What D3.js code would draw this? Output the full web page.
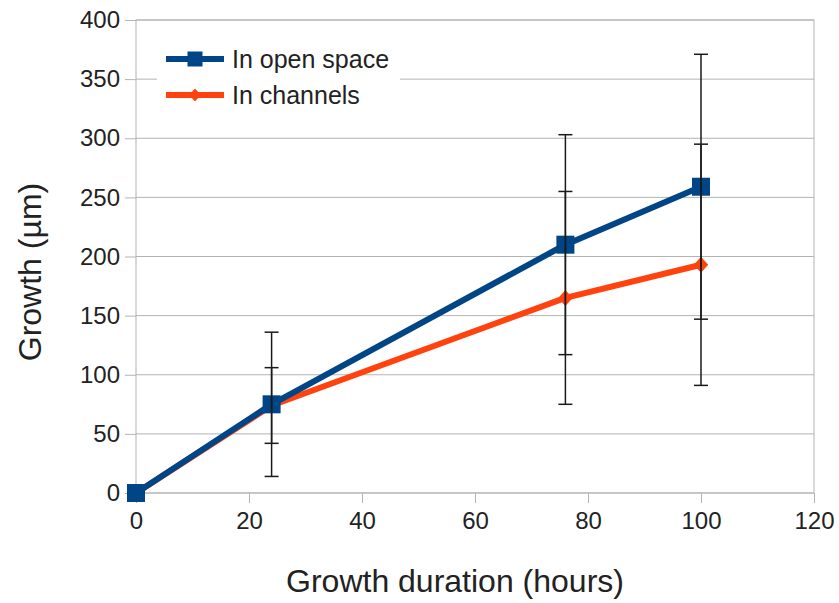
<!DOCTYPE html>
<html>
<head>
<meta charset="utf-8">
<script src="https://cdn.jsdelivr.net/npm/d3@7"></script>
<style>
  html, body { margin: 0; padding: 0; background: #fff; }
  svg { display: block; font-family: "Liberation Sans", Arial, sans-serif; }
  .grid line { stroke: #b3b3b3; stroke-width: 1; }
  .axis text { fill: #222; font-size: 24px; }
  .axis line, .axis path { stroke: #b3b3b3; }
  .axis-title { fill: #222; font-size: 32px; }
  .legend text { fill: #222; font-size: 25px; }
</style>
</head>
<body>
<div id="chart"></div>
<script>
// growth vs duration, two conditions, with +/- error bars
const hours = [0, 24, 76, 100];
const openSpace = [0, 75, 210, 259];
const openSpaceErr = [0, 61, 93, 112];
const channels = [0, 74, 165, 193];
const channelsErr = [0, 32, 90, 102];
const xTicks = [0, 20, 40, 60, 80, 100, 120];
const yTicks = [0, 50, 100, 150, 200, 250, 300, 350, 400];

const series = [
  { name: "In channels", color: "#ff420e", shape: "diamond", y: channels, err: channelsErr },
  { name: "In open space", color: "#004586", shape: "square", y: openSpace, err: openSpaceErr },
];

const width = 839, height = 603;
const m = { top: 20, right: 25, bottom: 110, left: 136 };
const iW = width - m.left - m.right, iH = height - m.top - m.bottom;

const x = d3.scaleLinear([0, 120], [0, iW]);
const y = d3.scaleLinear([0, 400], [iH, 0]);

const svg = d3.select("#chart").append("svg")
  .attr("width", width).attr("height", height);
const g = svg.append("g").attr("transform", `translate(${m.left},${m.top})`);

// horizontal gridlines + frame
g.append("g").attr("class", "grid").selectAll("line")
  .data(yTicks).join("line")
  .attr("x1", 0).attr("x2", iW).attr("y1", (d) => y(d)).attr("y2", (d) => y(d));
g.append("rect").attr("width", iW).attr("height", iH)
  .attr("fill", "none").attr("stroke", "#b3b3b3");

// axes
const ax = g.append("g").attr("class", "axis").attr("transform", `translate(0,${iH})`)
  .call(d3.axisBottom(x).tickValues(xTicks).tickSize(10).tickPadding(9));
ax.select(".domain").remove();
const ay = g.append("g").attr("class", "axis")
  .call(d3.axisLeft(y).tickValues(yTicks).tickSize(11).tickPadding(5));
ay.select(".domain").remove();
ax.selectAll("text").attr("font-size", 24);
ay.selectAll("text").attr("font-size", 24);

g.append("text").attr("class", "axis-title").attr("text-anchor", "middle")
  .attr("x", 455 - m.left).attr("y", 592 - m.top).text("Growth duration (hours)");
g.append("text").attr("class", "axis-title").attr("text-anchor", "middle")
  .attr("transform", `translate(${41 - m.left},${272 - m.top}) rotate(-90)`).text("Growth (µm)");

// legend (white box blocks gridline)
const leg = svg.append("g").attr("class", "legend");
leg.append("rect").attr("x", 157).attr("y", 38).attr("width", 243).attr("height", 74).attr("fill", "#fff");

function marker(sel, shape, size, color) {
  if (shape === "square") {
    sel.append("rect").attr("x", -size / 2).attr("y", -size / 2)
      .attr("width", size).attr("height", size).attr("fill", color);
  } else {
    const h = size / 2;
    sel.append("path").attr("d", `M0,${-h}L${h * 0.9},0L0,${h}L${-h * 0.9},0Z`).attr("fill", color);
  }
}

const line = d3.line().x((d) => x(d[0])).y((d) => y(d[1]));
for (const s of series) {
  const pts = hours.map((h, i) => [h, s.y[i]]);
  g.append("path").datum(pts).attr("fill", "none").attr("stroke", s.color)
    .attr("stroke-width", 6).attr("stroke-linejoin", "round").attr("d", line);
  pts.forEach((p) => {
    const mk = g.append("g").attr("transform", `translate(${x(p[0])},${y(p[1])})`);
    marker(mk, s.shape, s.shape === "square" ? 18 : 16, s.color);
  });
}

// error bars
const eb = g.append("g").attr("stroke", "#1a1a1a").attr("stroke-width", 1.5);
for (const s of series) {
  hours.forEach((h, i) => {
    if (!s.err[i]) return;
    const cx = x(h), y0 = y(s.y[i] - s.err[i]), y1 = y(s.y[i] + s.err[i]);
    eb.append("line").attr("x1", cx).attr("x2", cx).attr("y1", y0).attr("y2", y1);
    eb.append("line").attr("x1", cx - 7).attr("x2", cx + 7).attr("y1", y0).attr("y2", y0);
    eb.append("line").attr("x1", cx - 7).attr("x2", cx + 7).attr("y1", y1).attr("y2", y1);
  });
}

const legendItems = [series[1], series[0]];
legendItems.forEach((s, i) => {
  const ly = 59 + i * 36;
  leg.append("line").attr("x1", 166).attr("x2", 224).attr("y1", ly).attr("y2", ly)
    .attr("stroke", s.color).attr("stroke-width", 6);
  const mk = leg.append("g").attr("transform", `translate(195,${ly})`);
  marker(mk, s.shape, s.shape === "square" ? 15 : 13, s.color);
  leg.append("text").attr("x", 232).attr("y", ly).attr("dy", "0.35em").text(s.name);
});
</script>
</body>
</html>
